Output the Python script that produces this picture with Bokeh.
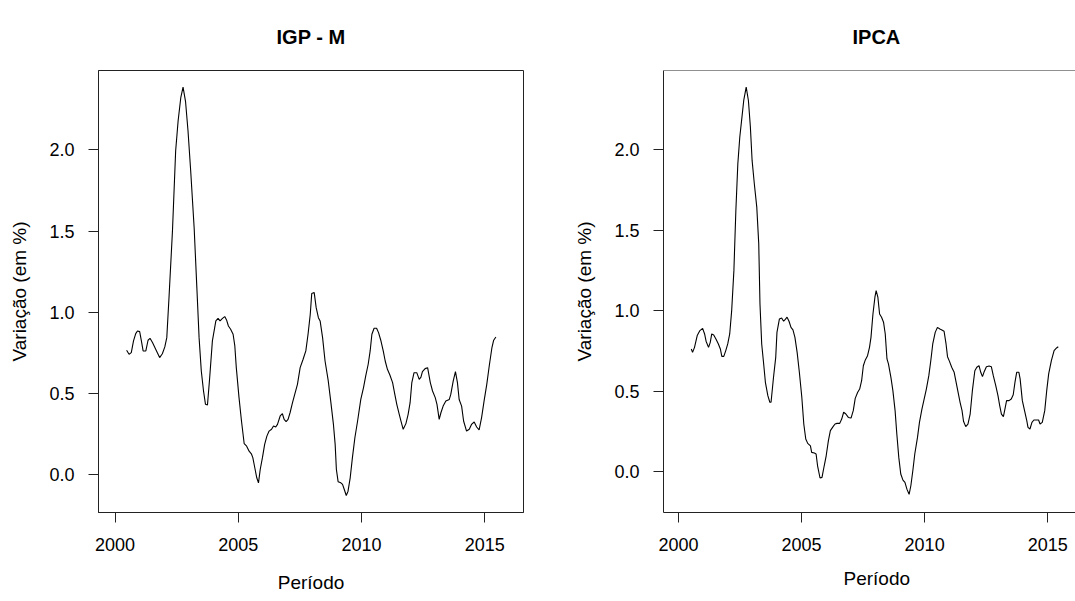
from bokeh.plotting import figure
from bokeh.layouts import row
from bokeh.models import FixedTicker, Range1d, Span, NumeralTickFormatter, Title
from bokeh.embed import file_html
from bokeh.resources import INLINE

# ---- data ----
igpm_t = [2000.47, 2000.57, 2000.66, 2000.75, 2000.84, 2000.91, 2001.00, 2001.07, 2001.14, 2001.25,
          2001.34, 2001.42, 2001.52, 2001.65, 2001.81, 2001.92, 2002.02, 2002.10, 2002.19, 2002.33,
          2002.46, 2002.56, 2002.67, 2002.76, 2002.86, 2002.96, 2003.07, 2003.21, 2003.32, 2003.41,
          2003.50, 2003.59, 2003.67, 2003.75, 2003.84, 2003.95, 2004.09, 2004.18, 2004.26, 2004.36,
          2004.45, 2004.53, 2004.60, 2004.69, 2004.79, 2004.86, 2004.92, 2005.03, 2005.13, 2005.24,
          2005.34, 2005.44, 2005.53, 2005.59, 2005.67, 2005.75, 2005.82, 2005.89, 2005.98, 2006.07,
          2006.16, 2006.25, 2006.35, 2006.43, 2006.52, 2006.59, 2006.70, 2006.79, 2006.86, 2006.94,
          2007.02, 2007.10, 2007.20, 2007.29, 2007.40, 2007.51, 2007.63, 2007.74, 2007.83, 2007.92,
          2007.98, 2008.08, 2008.16, 2008.25, 2008.32, 2008.42, 2008.52, 2008.65, 2008.75, 2008.86,
          2008.93, 2008.98, 2009.05, 2009.16, 2009.23, 2009.30, 2009.38, 2009.45, 2009.54, 2009.63,
          2009.73, 2009.84, 2009.97, 2010.08, 2010.17, 2010.27, 2010.35, 2010.42, 2010.51, 2010.61,
          2010.69, 2010.78, 2010.88, 2010.96, 2011.05, 2011.15, 2011.26, 2011.35, 2011.43, 2011.53,
          2011.60, 2011.69, 2011.80, 2011.89, 2011.97, 2012.04, 2012.13, 2012.24, 2012.34, 2012.41,
          2012.47, 2012.58, 2012.68, 2012.79, 2012.88, 2012.99, 2013.06, 2013.15, 2013.22, 2013.31,
          2013.42, 2013.56, 2013.62, 2013.72, 2013.81, 2013.89, 2013.96, 2014.06, 2014.14, 2014.26,
          2014.37, 2014.46, 2014.57, 2014.67, 2014.77, 2014.87, 2014.97, 2015.08, 2015.18, 2015.29,
          2015.36, 2015.45]
igpm_v = [0.765, 0.741, 0.751, 0.823, 0.868, 0.884, 0.880, 0.823, 0.761, 0.761,
          0.827, 0.839, 0.813, 0.772, 0.720, 0.744, 0.786, 0.843, 1.090, 1.500,
          1.995, 2.180, 2.325, 2.387, 2.300, 2.120, 1.870, 1.520, 1.150, 0.843,
          0.637, 0.514, 0.432, 0.428, 0.596, 0.823, 0.946, 0.962, 0.946, 0.962,
          0.973, 0.950, 0.915, 0.895, 0.864, 0.792, 0.658, 0.473, 0.329, 0.189,
          0.174, 0.143, 0.127, 0.103, 0.041, -0.021, -0.052, 0.030, 0.103, 0.185,
          0.236, 0.267, 0.278, 0.298, 0.292, 0.308, 0.360, 0.374, 0.339, 0.325,
          0.339, 0.380, 0.442, 0.493, 0.555, 0.658, 0.710, 0.761, 0.864, 0.987,
          1.115, 1.121, 1.028, 0.966, 0.946, 0.843, 0.699, 0.576, 0.452, 0.308,
          0.185, 0.030, -0.045, -0.052, -0.062, -0.093, -0.130, -0.105, -0.021, 0.103,
          0.226, 0.329, 0.462, 0.535, 0.607, 0.679, 0.761, 0.864, 0.901, 0.901,
          0.874, 0.827, 0.761, 0.699, 0.648, 0.613, 0.566, 0.493, 0.432, 0.370,
          0.329, 0.278, 0.313, 0.370, 0.442, 0.566, 0.627, 0.627, 0.586, 0.600,
          0.633, 0.652, 0.658, 0.566, 0.514, 0.473, 0.432, 0.339, 0.380, 0.421,
          0.452, 0.462, 0.493, 0.576, 0.633, 0.566, 0.462, 0.421, 0.329, 0.267,
          0.278, 0.308, 0.323, 0.292, 0.274, 0.350, 0.452, 0.555, 0.668, 0.782,
          0.827, 0.847]

ipca_t = [2000.52, 2000.57, 2000.65, 2000.76, 2000.87, 2000.98, 2001.06, 2001.12, 2001.22, 2001.29,
          2001.35, 2001.43, 2001.52, 2001.62, 2001.70, 2001.76, 2001.84, 2001.92, 2002.00, 2002.08,
          2002.16, 2002.25, 2002.33, 2002.41, 2002.49, 2002.57, 2002.65, 2002.75, 2002.84, 2002.92,
          2002.99, 2003.08, 2003.18, 2003.26, 2003.31, 2003.38, 2003.46, 2003.53, 2003.63, 2003.71,
          2003.76, 2003.86, 2003.95, 2004.00, 2004.10, 2004.19, 2004.27, 2004.34, 2004.41, 2004.49,
          2004.57, 2004.65, 2004.73, 2004.82, 2004.91, 2005.01, 2005.09, 2005.17, 2005.25, 2005.36,
          2005.41, 2005.52, 2005.59, 2005.65, 2005.75, 2005.83, 2005.92, 2006.00, 2006.09, 2006.17,
          2006.28, 2006.36, 2006.44, 2006.55, 2006.63, 2006.71, 2006.80, 2006.90, 2007.01, 2007.10,
          2007.18, 2007.28, 2007.36, 2007.44, 2007.51, 2007.59, 2007.68, 2007.76, 2007.82, 2007.90,
          2007.98, 2008.03, 2008.10, 2008.17, 2008.25, 2008.33, 2008.40, 2008.47, 2008.53, 2008.63,
          2008.71, 2008.80, 2008.87, 2008.95, 2009.03, 2009.12, 2009.20, 2009.28, 2009.37, 2009.44,
          2009.52, 2009.60, 2009.71, 2009.79, 2009.89, 2009.98, 2010.07, 2010.17, 2010.25, 2010.33,
          2010.43, 2010.52, 2010.62, 2010.70, 2010.79, 2010.87, 2010.93, 2011.01, 2011.10, 2011.20,
          2011.28, 2011.36, 2011.44, 2011.52, 2011.58, 2011.67, 2011.76, 2011.85, 2011.94, 2012.04,
          2012.12, 2012.21, 2012.28, 2012.35, 2012.41, 2012.51, 2012.62, 2012.71, 2012.79, 2012.89,
          2012.98, 2013.05, 2013.12, 2013.20, 2013.25, 2013.33, 2013.43, 2013.52, 2013.60, 2013.67,
          2013.74, 2013.83, 2013.88, 2013.97, 2014.06, 2014.15, 2014.20, 2014.28, 2014.36, 2014.44,
          2014.55, 2014.63, 2014.69, 2014.78, 2014.88, 2014.96, 2015.04, 2015.15, 2015.26, 2015.36,
          2015.43]
ipca_v = [0.762, 0.741, 0.772, 0.845, 0.876, 0.890, 0.855, 0.810, 0.772, 0.803,
          0.855, 0.849, 0.824, 0.793, 0.762, 0.716, 0.716, 0.752, 0.793, 0.855,
          1.000, 1.248, 1.621, 1.911, 2.077, 2.190, 2.304, 2.387, 2.304, 2.139,
          1.932, 1.787, 1.642, 1.414, 1.041, 0.793, 0.669, 0.555, 0.472, 0.431,
          0.431, 0.586, 0.710, 0.865, 0.948, 0.954, 0.934, 0.946, 0.959, 0.934,
          0.896, 0.880, 0.834, 0.741, 0.617, 0.462, 0.296, 0.203, 0.176, 0.161,
          0.120, 0.116, 0.110, 0.037, -0.039, -0.035, 0.037, 0.099, 0.193, 0.255,
          0.280, 0.296, 0.300, 0.300, 0.327, 0.369, 0.358, 0.337, 0.333, 0.379,
          0.455, 0.493, 0.513, 0.565, 0.658, 0.694, 0.720, 0.772, 0.834, 0.979,
          1.083, 1.124, 1.083, 0.979, 0.959, 0.928, 0.855, 0.700, 0.669, 0.586,
          0.503, 0.379, 0.234, 0.089, -0.014, -0.052, -0.066, -0.108, -0.140, -0.087,
          0.006, 0.110, 0.213, 0.306, 0.389, 0.451, 0.513, 0.596, 0.689, 0.793,
          0.865, 0.896, 0.886, 0.880, 0.872, 0.793, 0.714, 0.685, 0.648, 0.617,
          0.555, 0.493, 0.431, 0.379, 0.313, 0.280, 0.296, 0.358, 0.503, 0.627,
          0.648, 0.658, 0.617, 0.590, 0.617, 0.652, 0.656, 0.652, 0.596, 0.534,
          0.472, 0.410, 0.358, 0.342, 0.379, 0.441, 0.441, 0.451, 0.478, 0.555,
          0.617, 0.617, 0.576, 0.441, 0.379, 0.317, 0.275, 0.265, 0.306, 0.321,
          0.321, 0.321, 0.296, 0.306, 0.379, 0.503, 0.607, 0.689, 0.752, 0.768,
          0.776]

titles = ["IGP - M", "IPCA"]
x_label = "Período"
y_label = "Variação (em %)"
x_ticks = [2000, 2005, 2010, 2015]
y_ticks = [0.0, 0.5, 1.0, 1.5, 2.0]

FONT = "Liberation Sans"
LINE = "#222222"


def make_panel(title, t, v, width, border_left, border_right, x_rng, y_rng,
               outline, title_offset=None, xlabel_offset=None):
    p = figure(width=width, height=601, output_backend="svg", toolbar_location=None,
               x_range=Range1d(*x_rng), y_range=Range1d(*y_rng),
               min_border_left=border_left, min_border_right=border_right,
               min_border_top=70, min_border_bottom=89, title=None)
    p.line(t, v, line_color="black", line_width=1.1)

    tt = Title(text=title, text_font=FONT, text_font_style="bold",
               text_font_size="20px", text_color="black", standoff=45)
    if title_offset is None:
        tt.align = "center"
    else:
        tt.align = "left"
        tt.offset = title_offset
    p.add_layout(tt, "above")

    p.grid.visible = False
    p.background_fill_color = "white"
    p.border_fill_color = "white"
    if outline:
        p.outline_line_color = LINE
        p.outline_line_width = 1
    else:
        p.outline_line_color = None
        p.add_layout(Span(location=y_rng[1], dimension="width",
                          line_color=LINE, line_width=1))

    xax = p.below[0]
    yax = p.left[0]
    for ax in (xax, yax):
        ax.axis_line_color = LINE
        ax.axis_line_width = 1
        ax.major_tick_line_color = LINE
        ax.major_tick_out = 10
        ax.major_tick_in = 0
        ax.minor_tick_line_color = None
        ax.major_label_text_font = FONT
        ax.major_label_text_font_size = "18px"
        ax.major_label_text_color = "black"
        ax.axis_label_text_font = FONT
        ax.axis_label_text_font_size = "19px"
        ax.axis_label_text_font_style = "normal"
        ax.axis_label_text_color = "black"

    xax.ticker = FixedTicker(ticks=x_ticks)
    yax.ticker = FixedTicker(ticks=y_ticks)
    yax.formatter = NumeralTickFormatter(format="0.0")
    yax.major_label_orientation = "horizontal"
    xax.major_label_standoff = 15
    yax.major_label_standoff = 14
    yax.axis_label = y_label
    yax.axis_label_standoff = 16
    if xlabel_offset is None:
        xax.axis_label = x_label
        xax.axis_label_standoff = 18
    else:
        p.add_layout(Title(text=x_label, text_font=FONT, text_font_style="normal",
                           text_font_size="19px", text_color="black",
                           align="left", offset=xlabel_offset, standoff=24), "below")
    return p


p1 = make_panel(titles[0], igpm_t, igpm_v, 560, 98, 37,
                (1999.33, 2016.57), (-0.235, 2.49), True)
p2 = make_panel(titles[1], ipca_t, ipca_v, 515, 103, 0,
                (1999.39, 2016.13), (-0.253, 2.49), False,
                title_offset=189, xlabel_offset=180)

layout = row(p1, p2)
open("out.html", "w").write(file_html(layout, INLINE))
